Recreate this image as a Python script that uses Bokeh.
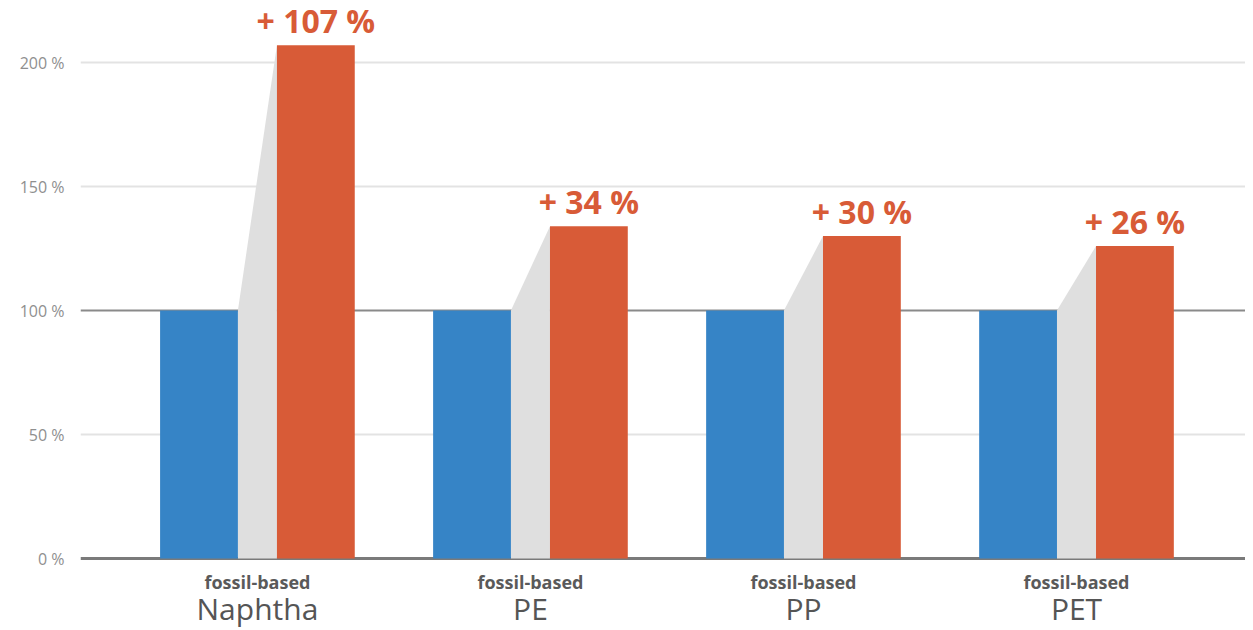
from bokeh.plotting import figure
from bokeh.models import Range1d, FixedTicker, Span, ColumnDataSource
from bokeh.core.properties import value
from bokeh.embed import file_html
from bokeh.resources import INLINE

categories = ["Naphtha", "PE", "PP", "PET"]
sublabel = "fossil-based"
fossil = [100, 100, 100, 100]
bio = [207, 134, 130, 126]
y_ticks = [0, 50, 100, 150, 200]
y_tick_labels = ["0 %", "50 %", "100 %", "150 %", "200 %"]

BLUE = "#3684c6"
ORANGE = "#d85b37"
GREY = "#dfdfdf"
FONT = "Open Sans"

idx = list(range(len(categories)))
bw = 0.285
gap = 0.0715
blue_x = [i - gap - bw / 2 for i in idx]
orange_x = [i + gap + bw / 2 for i in idx]
labels = ["+ %d %%" % (b - f) for b, f in zip(bio, fossil)]

p = figure(width=1245, height=628, output_backend="svg", toolbar_location=None,
           x_range=Range1d(-0.648, 3.619), y_range=Range1d(-28.2, 225),
           min_border_left=80, min_border_right=0, min_border_top=0, min_border_bottom=0)
p.outline_line_color = None
p.background_fill_color = "white"
p.xaxis.visible = False
p.xgrid.visible = False
p.ygrid.visible = False

# grid lines
for t in y_ticks:
    if t == 0:
        col, w = "#7a7a7a", 3
    elif t == 100:
        col, w = "#8a8a8a", 2
    else:
        col, w = "#e3e3e3", 2
    p.add_layout(Span(location=t, dimension="width", line_color=col, line_width=w, level="underlay"))

# y axis
ax = p.yaxis[0]
ax.ticker = FixedTicker(ticks=y_ticks)
ax.major_label_overrides = {t: l for t, l in zip(y_ticks, y_tick_labels)}
ax.bounds = (0, 200)
ax.axis_line_color = None
ax.major_tick_line_color = None
ax.minor_tick_line_color = None
ax.major_label_standoff = 10
ax.major_label_text_font = FONT
ax.major_label_text_font_size = "16px"
ax.major_label_text_color = "#8f8f8f"

# grey connectors
xs, ys = [], []
for i, f, b in zip(idx, fossil, bio):
    x0, x1 = i - gap, i + gap
    xs.append([x0, x0, x1, x1])
    ys.append([0, f, b, 0])
p.patches(xs, ys, fill_color=GREY, line_color=None)

p.vbar(x=blue_x, top=fossil, bottom=0, width=bw, fill_color=BLUE, line_color=None)
p.vbar(x=orange_x, top=bio, bottom=0, width=bw, fill_color=ORANGE, line_color=None)

src = ColumnDataSource(dict(x=orange_x, y=[b + 1.2 for b in bio], t=labels))
p.text(x="x", y="y", text="t", source=src, text_align="center", text_baseline="bottom",
       text_font=value(FONT), text_font_size="32px", text_font_style="bold",
       text_color=ORANGE)

p.text(x=idx, y=[-9.5] * len(idx), text=[sublabel] * len(idx), text_align="center",
       text_baseline="middle", text_font=value(FONT), text_font_size="18px",
       text_font_style="bold", text_color="#5a5a5a")
p.text(x=idx, y=[-20] * len(idx), text=categories, text_align="center",
       text_baseline="middle", text_font=value(FONT), text_font_size="30px",
       text_color="#555555")

open("out.html", "w").write(file_html(p, INLINE))
